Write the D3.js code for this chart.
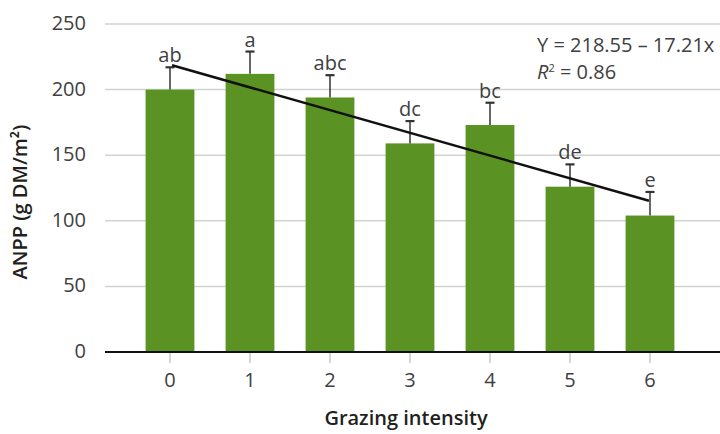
<!DOCTYPE html>
<html>
<head>
<meta charset="utf-8">
<script src="https://cdn.jsdelivr.net/npm/d3@7"></script>
<style>
  html, body { margin: 0; padding: 0; background: #fff; }
  svg { display: block; font-family: "Open Sans", "Noto Sans", sans-serif; }
</style>
</head>
<body>
<svg id="chart" width="720" height="434"></svg>
<script>
// Grazing intensity levels and measured ANPP
const categories = [0, 1, 2, 3, 4, 5, 6];
const anpp = [200, 212, 194, 159, 173, 126, 104];
const stdErr = [17, 17, 17, 17, 17, 17, 18];
const letters = ["ab", "a", "abc", "dc", "bc", "de", "e"];
const yTicks = [0, 50, 100, 150, 200, 250];
// Linear fit Y = a + b·x
const intercept = 218.55;
const slope = -17.21;
const rSquared = 0.86;

const svg = d3.select("#chart");
const plotLeft = 105, plotRight = 720, plotTop = 24, plotBottom = 352;

const x = d3.scaleBand()
  .domain(categories)
  .range([130, 690])
  .paddingInner(0.39)
  .paddingOuter(0.195);
const xc = d => x(d) + x.bandwidth() / 2;

const y = d3.scaleLinear().domain([0, 250]).range([plotBottom, plotTop]);

// horizontal gridlines
svg.append("g")
  .selectAll("line")
  .data(yTicks.filter(t => t > 0))
  .join("line")
  .attr("x1", plotLeft).attr("x2", plotRight)
  .attr("y1", d => y(d)).attr("y2", d => y(d))
  .attr("stroke", "#d2d2d2").attr("stroke-width", 1.5);

// y tick labels
svg.append("g")
  .selectAll("text")
  .data(yTicks)
  .join("text")
  .attr("x", 86).attr("y", d => y(d) + 6)
  .attr("text-anchor", "end")
  .attr("font-size", 20)
  .attr("fill", "#404040")
  .text(d => d);

// bars
svg.append("g")
  .selectAll("rect")
  .data(categories)
  .join("rect")
  .attr("x", d => x(d))
  .attr("width", x.bandwidth())
  .attr("y", (d, i) => y(anpp[i]))
  .attr("height", (d, i) => y(0) - y(anpp[i]))
  .attr("fill", "#5a9323");

// error bars (upper whisker only)
const eb = svg.append("g").attr("stroke", "#333");
categories.forEach((c, i) => {
  const cx = xc(c);
  eb.append("line")
    .attr("x1", cx).attr("x2", cx)
    .attr("y1", y(anpp[i])).attr("y2", y(anpp[i] + stdErr[i]))
    .attr("stroke-width", 1.5);
  eb.append("line")
    .attr("x1", cx - 4.5).attr("x2", cx + 4.5)
    .attr("y1", y(anpp[i] + stdErr[i])).attr("y2", y(anpp[i] + stdErr[i]))
    .attr("stroke-width", 2.2);
});

// regression line across the fitted range
svg.append("line")
  .attr("x1", xc(0) + 2).attr("y1", y(intercept + slope * 0))
  .attr("x2", xc(6) - 1).attr("y2", y(intercept + slope * 6))
  .attr("stroke", "#111").attr("stroke-width", 2.5);

// significance letters
svg.append("g")
  .selectAll("text")
  .data(categories)
  .join("text")
  .attr("x", d => xc(d))
  .attr("y", (d, i) => y(anpp[i] + stdErr[i]) - 5)
  .attr("text-anchor", "middle")
  .attr("font-size", 20)
  .attr("fill", "#404040")
  .text((d, i) => letters[i]);

// x axis line and ticks
svg.append("line")
  .attr("x1", plotLeft).attr("x2", plotRight)
  .attr("y1", plotBottom).attr("y2", plotBottom)
  .attr("stroke", "#111").attr("stroke-width", 2);
svg.append("g")
  .selectAll("line")
  .data(categories)
  .join("line")
  .attr("x1", d => xc(d)).attr("x2", d => xc(d))
  .attr("y1", plotBottom + 1).attr("y2", plotBottom + 11)
  .attr("stroke", "#c8c8c8").attr("stroke-width", 1.5);
svg.append("g")
  .selectAll("text")
  .data(categories)
  .join("text")
  .attr("x", d => xc(d)).attr("y", 387)
  .attr("text-anchor", "middle")
  .attr("font-size", 20)
  .attr("fill", "#404040")
  .text(d => d);

// axis titles
svg.append("text")
  .attr("x", 406).attr("y", 425)
  .attr("text-anchor", "middle")
  .attr("font-size", 20).attr("font-weight", 600)
  .attr("fill", "#231f20")
  .text("Grazing intensity");

svg.append("text")
  .attr("transform", "translate(27,202) rotate(-90)")
  .attr("text-anchor", "middle")
  .attr("font-size", 20).attr("font-weight", 600)
  .attr("fill", "#231f20")
  .text("ANPP (g DM/m²)");

// regression equation
const eq = svg.append("g").attr("font-size", 20).attr("fill", "#404040");
eq.append("text")
  .attr("x", 537).attr("y", 52)
  .text(`Y = ${intercept} – ${Math.abs(slope)}x`);
const r2 = eq.append("text").attr("x", 537).attr("y", 79);
r2.append("tspan").attr("font-style", "italic").text("R");
r2.append("tspan").attr("font-size", 11).attr("dy", -7).text("2");
r2.append("tspan").attr("dy", 7).text(` = ${rSquared.toFixed(2)}`);
</script>
</body>
</html>
